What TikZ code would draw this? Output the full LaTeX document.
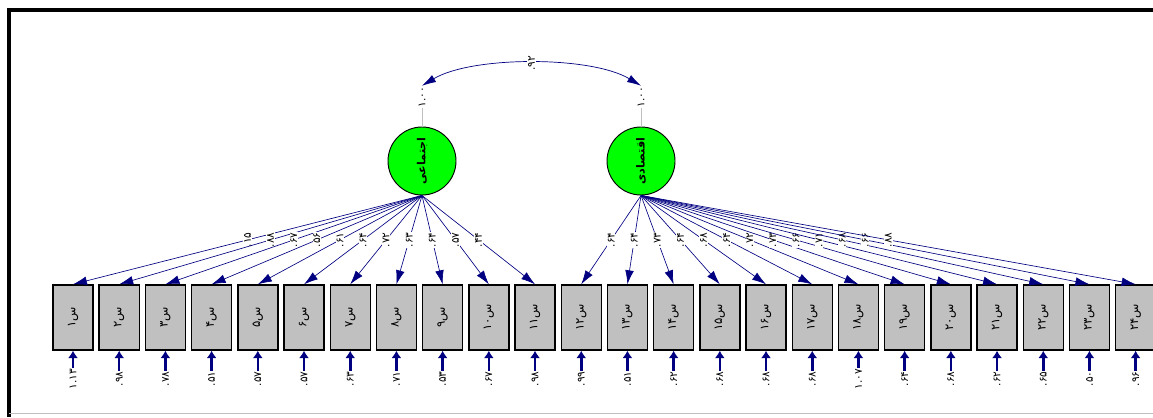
\documentclass[tikz,border=0pt]{standalone}
\usepackage{fontspec}
\usepackage{graphicx}
\usetikzlibrary{positioning, arrows.meta}
\newfontfamily\fafont[Script=Arabic]{DejaVu Sans}
\newfontfamily\numfont{DejaVu Sans}
\definecolor{amosnavy}{RGB}{0,0,128}
\definecolor{boxgray}{RGB}{192,192,192}
\newcommand{\vt}[1]{\rotatebox{90}{\fafont #1}}
\newcommand{\vn}[1]{\rotatebox{90}{\numfont #1}}

\begin{document}
\begin{tikzpicture}[x=0.03cm,y=-0.03cm,node distance=1.386cm,on grid,
  item/.style={draw,line width=1.2pt,fill=boxgray,minimum width=1.2cm,
    minimum height=1.95cm,inner sep=0pt,font=\fontsize{10}{11}\selectfont},
  latent/.style={circle,draw,line width=0.8pt,fill=green,minimum size=2.04cm,
    inner sep=0pt,font=\fontsize{9.5}{11}\selectfont\bfseries},
  num/.style={inner sep=0.7pt,fill=white,font=\fontsize{9}{10}\selectfont},
  load/.style={draw=amosnavy,line width=0.55pt,-{Latex[length=0.42cm,width=0.26cm]}},
  err/.style={draw=amosnavy,line width=2.2pt,-{Latex[length=0.22cm,width=0.3cm]}},
  cov/.style={draw=amosnavy,line width=0.6pt,
    {Latex[length=0.42cm,width=0.24cm]}-{Latex[length=0.42cm,width=0.24cm]}}]
  \useasboundingbox (0,0) rectangle (1153,417);
  \draw[line width=3.4pt] (9,417) -- (9,10) -- (1153,10);
  \draw[gray!50,line width=0.8pt] (9,413) -- (1153,413);

  % factors
  \node[latent] (f1) at (422,161) {\vt{اجتماعی}};
  \node[latent] (f2) [right=6.57cm of f1] {\vt{اقتصادی}};
  \node[num] (r1) [above=1.92cm of f1] {\vn{۱.۰۰}};
  \node[num] (r2) [above=1.92cm of f2] {\vn{۱.۰۰}};

  % items
  \node[item] (v1) at (73,317.5) {\vt{س۱}};
  \node[item] (v2) [right=of v1] {\vt{س۲}};
  \node[item] (v3) [right=of v2] {\vt{س۳}};
  \node[item] (v4) [right=of v3] {\vt{س۴}};
  \node[item] (v5) [right=of v4] {\vt{س۵}};
  \node[item] (v6) [right=of v5] {\vt{س۶}};
  \node[item] (v7) [right=of v6] {\vt{س۷}};
  \node[item] (v8) [right=of v7] {\vt{س۸}};
  \node[item] (v9) [right=of v8] {\vt{س۹}};
  \node[item] (v10) [right=of v9] {\vt{س۱۰}};
  \node[item] (v11) [right=of v10] {\vt{س۱۱}};
  \node[item] (v12) [right=of v11] {\vt{س۱۲}};
  \node[item] (v13) [right=of v12] {\vt{س۱۳}};
  \node[item] (v14) [right=of v13] {\vt{س۱۴}};
  \node[item] (v15) [right=of v14] {\vt{س۱۵}};
  \node[item] (v16) [right=of v15] {\vt{س۱۶}};
  \node[item] (v17) [right=of v16] {\vt{س۱۷}};
  \node[item] (v18) [right=of v17] {\vt{س۱۸}};
  \node[item] (v19) [right=of v18] {\vt{س۱۹}};
  \node[item] (v20) [right=of v19] {\vt{س۲۰}};
  \node[item] (v21) [right=of v20] {\vt{س۲۱}};
  \node[item] (v22) [right=of v21] {\vt{س۲۲}};
  \node[item] (v23) [right=of v22] {\vt{س۲۳}};
  \node[item] (v24) [right=of v23] {\vt{س۲۴}};

  % error terms
  \node[num] (e1) [below=1.845cm of v1] {\vn{۱.۱۳}};
  \node[num] (e2) [below=1.845cm of v2] {\vn{.۹۸}};
  \node[num] (e3) [below=1.845cm of v3] {\vn{.۷۸}};
  \node[num] (e4) [below=1.845cm of v4] {\vn{.۵۱}};
  \node[num] (e5) [below=1.845cm of v5] {\vn{.۵۷}};
  \node[num] (e6) [below=1.845cm of v6] {\vn{.۵۷}};
  \node[num] (e7) [below=1.845cm of v7] {\vn{.۶۳}};
  \node[num] (e8) [below=1.845cm of v8] {\vn{.۷۱}};
  \node[num] (e9) [below=1.845cm of v9] {\vn{.۵۳}};
  \node[num] (e10) [below=1.845cm of v10] {\vn{.۶۷}};
  \node[num] (e11) [below=1.845cm of v11] {\vn{.۹۸}};
  \node[num] (e12) [below=1.845cm of v12] {\vn{.۹۹}};
  \node[num] (e13) [below=1.845cm of v13] {\vn{.۵۱}};
  \node[num] (e14) [below=1.845cm of v14] {\vn{.۶۲}};
  \node[num] (e15) [below=1.845cm of v15] {\vn{.۶۸}};
  \node[num] (e16) [below=1.845cm of v16] {\vn{.۶۸}};
  \node[num] (e17) [below=1.845cm of v17] {\vn{.۶۸}};
  \node[num] (e18) [below=1.845cm of v18] {\vn{۱.۰۷}};
  \node[num] (e19) [below=1.845cm of v19] {\vn{.۶۴}};
  \node[num] (e20) [below=1.845cm of v20] {\vn{.۶۸}};
  \node[num] (e21) [below=1.845cm of v21] {\vn{.۶۲}};
  \node[num] (e22) [below=1.845cm of v22] {\vn{.۶۵}};
  \node[num] (e23) [below=1.845cm of v23] {\vn{.۵۰}};
  \node[num] (e24) [below=1.845cm of v24] {\vn{.۹۶}};

  \draw[gray!50,line width=0.8pt] (f1) -- (r1);
  \draw[gray!50,line width=0.8pt] (f2) -- (r2);
  \draw[cov] (r1.north) .. controls +(50,-30) and +(-50,-30) .. (r2.north)
    node[num,pos=0.5] {\vn{.۹۲}};

  \path[every edge/.style=load]
    (f1.south) edge node[num] {\vn{.۱۵}} (v1.north)
               edge node[num] {\vn{.۸۸}} (v2.north)
               edge node[num] {\vn{.۶۷}} (v3.north)
               edge node[num] {\vn{.۵۶}} (v4.north)
               edge node[num] {\vn{.۶۱}} (v5.north)
               edge node[num] {\vn{.۶۴}} (v6.north)
               edge node[num] {\vn{.۷۲}} (v7.north)
               edge node[num] {\vn{.۶۳}} (v8.north)
               edge node[num] {\vn{.۶۴}} (v9.north)
               edge node[num] {\vn{.۵۷}} (v10.north)
               edge node[num] {\vn{.۴۴}} (v11.north)
    (f2.south) edge node[num] {\vn{.۶۴}} (v12.north)
               edge node[num] {\vn{.۶۴}} (v13.north)
               edge node[num] {\vn{.۷۳}} (v14.north)
               edge node[num] {\vn{.۶۴}} (v15.north)
               edge node[num] {\vn{.۶۸}} (v16.north)
               edge node[num] {\vn{.۶۴}} (v17.north)
               edge node[num] {\vn{.۷۲}} (v18.north)
               edge node[num] {\vn{.۷۳}} (v19.north)
               edge node[num] {\vn{.۶۶}} (v20.north)
               edge node[num] {\vn{.۷۱}} (v21.north)
               edge node[num] {\vn{.۶۸}} (v22.north)
               edge node[num] {\vn{.۶۶}} (v23.north)
               edge node[num] {\vn{.۸۸}} (v24.north);

  \path[every edge/.style=err]
    (e1) edge (v1) (e2) edge (v2) (e3) edge (v3) (e4) edge (v4)
    (e5) edge (v5) (e6) edge (v6) (e7) edge (v7) (e8) edge (v8)
    (e9) edge (v9) (e10) edge (v10) (e11) edge (v11) (e12) edge (v12)
    (e13) edge (v13) (e14) edge (v14) (e15) edge (v15) (e16) edge (v16)
    (e17) edge (v17) (e18) edge (v18) (e19) edge (v19) (e20) edge (v20)
    (e21) edge (v21) (e22) edge (v22) (e23) edge (v23) (e24) edge (v24);
\end{tikzpicture}
\end{document}
